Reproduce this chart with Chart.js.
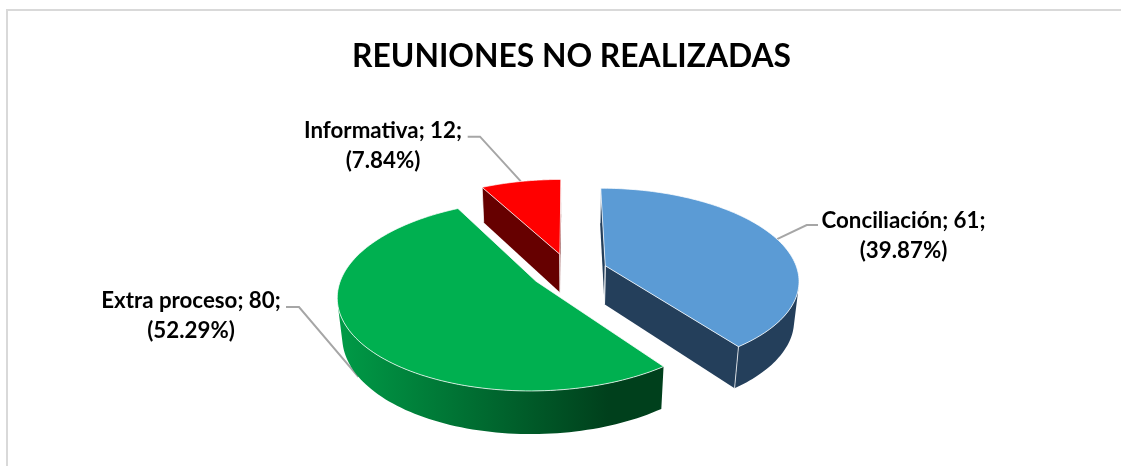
<!DOCTYPE html>
<html><head><meta charset="utf-8">
<style>html,body{margin:0;padding:0;background:#fff}canvas{display:block}</style>
<script src="https://cdn.jsdelivr.net/npm/chart.js@4"></script>
</head><body><canvas id="c" width="1121" height="466"></canvas>
<script>
const categories = ["Conciliación", "Extra proceso", "Informativa"];
const values = [61, 80, 12];
const titleText = "REUNIONES NO REALIZADAS";
const topColors = ["#5B9BD5", "#00B050", "#FF0000"];
const sideShadeStart = ["#243F5B", "#009B47", "#660000"];
const sideShadeEnd = ["#243F5B", "#00401C", "#660000"];

// camera of the 3-D view (units: pie radius = 1)
const CAM = {vxShift:-2.5, horizon:-346.3, f:1315, a:4217, dist:6.827, kz:0.145, bz:360, explode:0.2, camY:5.15};
const LABELS = [
  {x:903.5, y:221, lead:[[818,225],[806.7,225]]},
  {x:191,   y:301, lead:[[286,307],[299,307]]},
  {x:383,   y:131, lead:[[467.7,136.7],[480,136.7]]}
];
const LABEL_FONT = "bold 22.3px Lato";

function rimPoint(arc, th, r, z){
  const mid = (arc.startAngle + arc.endAngle) / 2;
  const X = Math.cos(th) * r + CAM.explode * Math.cos(mid);
  const Y = Math.sin(th) * r + CAM.explode * Math.sin(mid);
  const w = CAM.dist - Y + CAM.kz * z;
  return {x: arc.x + CAM.vxShift + X * CAM.f / w, y: CAM.horizon + (CAM.a + CAM.bz * z) / w, X, Y};
}
function poly(ctx, pts){
  ctx.beginPath();
  pts.forEach((p,i)=> i ? ctx.lineTo(p.x,p.y) : ctx.moveTo(p.x,p.y));
  ctx.closePath();
}
function faces(ctx, arc, i){
  const s = arc.startAngle, e = arc.endAngle, N = 120;
  const tipT = rimPoint(arc, 0, 0, 0), tipB = rimPoint(arc, 0, 0, 1);
  const sT = rimPoint(arc, s, 1, 0), sB = rimPoint(arc, s, 1, 1);
  const eT = rimPoint(arc, e, 1, 0), eB = rimPoint(arc, e, 1, 1);
  const camDot = (p, nx, ny) => (0 - p.X) * nx + (CAM.camY - p.Y) * ny;
  const edge = [];
  ctx.fillStyle = sideShadeEnd[i];
  ctx.lineJoin = "round";
  if (camDot(tipT, Math.sin(s), -Math.cos(s)) > 0) { poly(ctx,[tipT,sT,sB,tipB]); ctx.fill(); edge.push([tipT,tipB]); edge.push([sT,sB]); }
  if (camDot(tipT, -Math.sin(e), Math.cos(e)) > 0) { poly(ctx,[tipT,eT,eB,tipB]); ctx.fill(); edge.push([tipT,tipB]); edge.push([eT,eB]); }
  const upper = [], lower = [];
  for (let k = 0; k <= N; k++) {
    const th = s + (e - s) * k / N;
    const p = rimPoint(arc, th, 1, 0);
    if (camDot(p, Math.cos(th), Math.sin(th)) > 0) { upper.push(p); lower.push(rimPoint(arc, th, 1, 1)); }
  }
  if (upper.length > 1) {
    const all = upper.concat(lower.slice().reverse());
    const xs = all.map(p=>p.x), x0 = Math.min(...xs), x1 = Math.max(...xs);
    const g = ctx.createLinearGradient(x0, 0, x1, 0);
    g.addColorStop(0, sideShadeStart[i]);
    g.addColorStop(0.83, sideShadeEnd[i]);
    g.addColorStop(1, sideShadeEnd[i]);
    ctx.fillStyle = g;
    poly(ctx, all); ctx.fill();
  }
  const top = [tipT];
  for (let k = 0; k <= N; k++) top.push(rimPoint(arc, s + (e - s) * k / N, 1, 0));
  ctx.fillStyle = arc.options.backgroundColor;
  poly(ctx, top); ctx.fill();
  ctx.strokeStyle = "rgba(255,255,255,0.75)";
  ctx.lineWidth = 1;
  poly(ctx, top); ctx.stroke();
  edge.forEach(([a,b])=>{ ctx.beginPath(); ctx.moveTo(a.x,a.y); ctx.lineTo(b.x,b.y); ctx.stroke(); });
}
const total = values.reduce((a,b)=>a+b,0);
const pie3d = {
  id:"pie3d",
  beforeDraw(chart){
    const ctx = chart.ctx;
    ctx.save();
    ctx.fillStyle = "#D9D9D9";
    ctx.fillRect(6, 9, chart.width - 6, 2);
    ctx.fillRect(6, 9, 2, chart.height - 9);
    ctx.restore();
  },
  beforeDatasetsDraw(chart){
    const ctx = chart.ctx, arcs = chart.getDatasetMeta(0).data;
    ctx.save();
    // leader lines sit behind the pie
    ctx.strokeStyle = "#A6A6A6"; ctx.lineWidth = 2;
    arcs.forEach((arc,i)=>{
      const mid = (arc.startAngle + arc.endAngle) / 2;
      const end = rimPoint(arc, mid, 1, Math.sin(mid) > 0 ? 1 : 0);
      const L = LABELS[i].lead;
      ctx.beginPath(); ctx.moveTo(L[0][0],L[0][1]); ctx.lineTo(L[1][0],L[1][1]); ctx.lineTo(end.x,end.y); ctx.stroke();
    });
    const order = arcs.map((a,i)=>i).sort((p,q)=>
      Math.sin((arcs[p].startAngle+arcs[p].endAngle)/2) - Math.sin((arcs[q].startAngle+arcs[q].endAngle)/2));
    order.forEach(i=>faces(ctx, arcs[i], i));
    ctx.fillStyle = "#000"; ctx.font = LABEL_FONT; ctx.textAlign = "center"; ctx.textBaseline = "middle";
    categories.forEach((c,i)=>{
      const pct = (values[i] / total * 100).toFixed(2);
      ctx.fillText(c + "; " + values[i] + ";", LABELS[i].x, LABELS[i].y);
      ctx.fillText("(" + pct + "%)", LABELS[i].x, LABELS[i].y + 29.5);
    });
    ctx.restore();
    return false;
  }
};
new Chart(document.getElementById("c"), {
  type:"pie",
  data:{labels:categories, datasets:[{data:values, backgroundColor:topColors, borderColor:"#fff", borderWidth:1}]},
  options:{
    responsive:false, animation:false,
    layout:{padding:{left:22, bottom:16}},
    plugins:{
      legend:{display:false}, tooltip:{enabled:false},
      title:{display:true, text:titleText, color:"#000", font:{family:"Lato", size:31.8, weight:"bold", lineHeight:1.2}, padding:{top:38,bottom:14}}
    }
  },
  plugins:[pie3d]
});
</script></body></html>
